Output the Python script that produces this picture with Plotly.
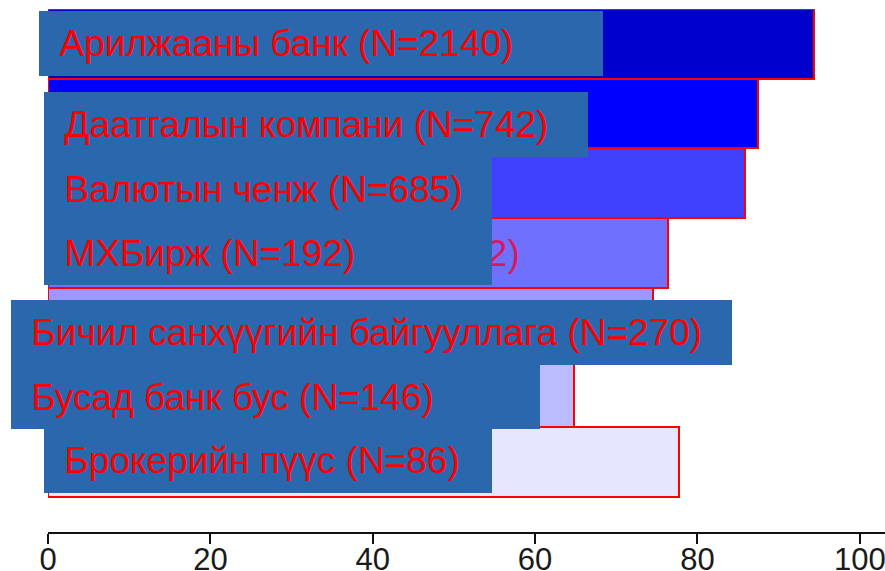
import plotly.graph_objects as go

# ---- data ----
categories = [
    "Арилжааны банк",
    "Даатгалын компани",
    "Валютын ченж",
    "МХБирж",
    "Бичил санхүүгийн байгууллага",
    "Бусад банк бус",
    "Брокерийн пүүс",
]
counts = [2140, 742, 685, 192, 270, 146, 86]
values = [94.4, 87.5, 85.9, 76.4, 74.5, 64.8, 77.7]
x_ticks = [0, 20, 40, 60, 80, 100]

# ---- styles ----
bar_colors = ["#0000CC", "#0000FF", "#4040FF", "#7070FF", "#9999FF", "#BBBBFF", "#E6E6FF"]
box_color = "#2B67AD"
label_font = dict(family="Liberation Sans, Arial, sans-serif", size=37, color="#FF0000")
# label box layout (pixels): left offset from x=0, box width, box height, vertical shift
box_xshift = [-8.7, -4.4, -4.4, -4.4, -36.7, -36.7, -4.4]
box_width = [564, 544, 448, 448, 721, 529, 448]
box_height = [65, 65, 64, 64, 65, 64, 65]
box_yshift = [0.5, -10.5, -5.5, 0, -9.5, -4.5, 1.5]

labels = [f"{c} (N={n})" for c, n in zip(categories, counts)]

fig = go.Figure(
    go.Bar(
        y=categories,
        x=values,
        orientation="h",
        width=1,
        marker=dict(color=bar_colors, line=dict(color="#FF0000", width=2)),
        hoverinfo="skip",
    )
)

annotations = []
# partially hidden label behind the МХБирж box
annotations.append(dict(
    xref="x", yref="y", x=0, y=categories[3], xanchor="right", yanchor="middle",
    xshift=474, text=labels[3], showarrow=False,
    font=dict(family=label_font["family"], size=label_font["size"], color="#D81A5C"),
))
for i, lab in enumerate(labels):
    annotations.append(dict(
        xref="x", yref="y", x=0, y=categories[i],
        xanchor="left", yanchor="middle",
        xshift=box_xshift[i], yshift=box_yshift[i],
        text="\u00a0\u00a0" + lab, showarrow=False, align="left", valign="middle",
        width=box_width[i], height=box_height[i],
        bgcolor=box_color, borderpad=0, borderwidth=0,
        font=label_font,
    ))

fig.update_layout(
    width=885, height=571,
    margin=dict(l=48, r=0, t=9, b=39, autoexpand=False),
    paper_bgcolor="white", plot_bgcolor="white",
    showlegend=False, bargap=0,
    annotations=annotations,
    xaxis=dict(
        range=[0, 103.1], tickvals=x_ticks, ticktext=[str(t) for t in x_ticks],
        showgrid=False, zeroline=False,
        showline=True, linecolor="#111", linewidth=2,
        ticks="outside", ticklen=10, tickwidth=2, tickcolor="#111",
        tickfont=dict(family="Liberation Sans, Arial, sans-serif", size=31, color="#1a1a1a"),
        ticklabeloverflow="allow",
        ticklabelstandoff=-11,
        fixedrange=True,
    ),
    yaxis=dict(
        categoryorder="array", categoryarray=categories,
        range=[7.0, -0.5], visible=False, fixedrange=True,
    ),
)

fig.write_html(
    "out.html",
    config={"displayModeBar": False},
    post_script="document.body.style.margin='0px';document.body.style.overflow='hidden';",
)
